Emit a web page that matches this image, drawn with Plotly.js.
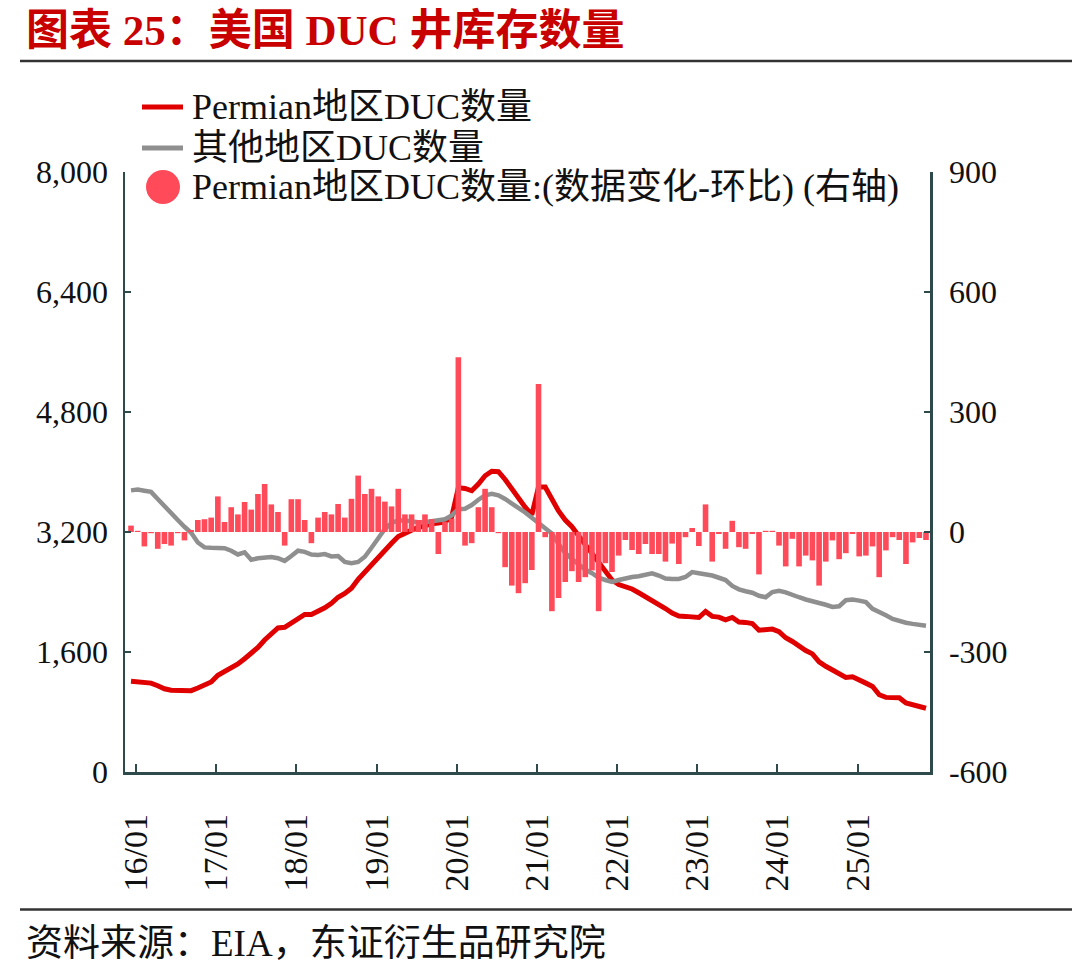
<!DOCTYPE html>
<html>
<head>
<meta charset="utf-8">
<script src="https://cdn.plot.ly/plotly-3.0.1.min.js"></script>
<style>
  html, body { margin: 0; padding: 0; background: #ffffff; }
  #chart { width: 1072px; height: 974px; }
</style>
</head>
<body>
<div id="chart"></div>
<script>
// Monthly DUC well counts, 2016-01 .. 2025-12
const months = [];
for (let y = 2016; y <= 2025; y++) {
  for (let m = 1; m <= 12; m++) months.push(y + '-' + String(m).padStart(2, '0'));
}

// Permian region DUC count (left axis)
const permianDuc = [
  1210, 1200, 1190, 1185, 1150, 1110, 1090, 1085, 1075, 1085, 1120, 1165,
  1200, 1290, 1340, 1390, 1440, 1510, 1580, 1660, 1760, 1830, 1920, 1930,
  1990, 2060, 2100, 2100, 2140, 2190, 2250, 2330, 2380, 2450, 2570, 2670,
  2770, 2860, 2960, 3050, 3140, 3190, 3225, 3260, 3290, 3310, 3320, 3335,
  3400, 3790, 3780, 3750, 3840, 3950, 4010, 4005, 3900, 3770, 3640, 3530,
  3430, 3800, 3800, 3640, 3480, 3360, 3270, 3150, 3030, 2920, 2790, 2680,
  2560, 2500, 2470, 2440, 2390, 2340, 2290, 2230, 2180, 2120, 2080, 2075,
  2070, 2060, 2140, 2075, 2065, 2030, 2060, 2000, 1995, 1980, 1890, 1900,
  1905, 1870, 1790, 1740, 1670, 1620, 1575, 1470, 1410, 1360, 1300, 1260,
  1270, 1220, 1185, 1140, 1030, 995, 990, 990, 920, 895, 875, 850
];

// DUC count in all other regions (left axis)
const otherDuc = [
  3755, 3765, 3750, 3735, 3640, 3540, 3450, 3360, 3270, 3190, 3060, 2995,
  2990, 2990, 2985, 2950, 2900, 2930, 2830, 2850, 2865, 2865, 2850, 2815,
  2880, 2950, 2935, 2900, 2895, 2905, 2875, 2880, 2800, 2785, 2800, 2870,
  2990, 3110, 3240, 3320, 3355, 3355, 3340, 3330, 3330, 3340, 3350, 3370,
  3420, 3505, 3510, 3560, 3630, 3690, 3710, 3690, 3640, 3580, 3530, 3460,
  3390, 3320, 3240, 3180, 3040, 2920, 2840, 2760, 2700, 2650, 2590, 2560,
  2535, 2560, 2585, 2600, 2610, 2630, 2650, 2620, 2580, 2575, 2575, 2600,
  2665, 2650, 2640, 2620, 2590, 2560, 2480, 2435, 2410, 2390, 2350, 2330,
  2400, 2415, 2395, 2370, 2330, 2300, 2280, 2255, 2230, 2200, 2210, 2290,
  2300, 2285, 2265, 2175, 2140, 2090, 2040, 2010, 1990, 1975, 1965, 1950
];

// Month-on-month change of the Permian DUC count (right axis)
const permianMom = [
  16, 3, -36, -3, -42, -30, -34, -3, -21, 5, 30, 32,
  36, 89, 25, 62, 44, 75, 56, 95, 120, 69, 50, -34,
  82, 82, 30, -28, 36, 50, 44, 70, 36, 83, 141, 95,
  108, 89, 76, 64, 108, 44, 44, 30, 44, 32, -55, 25,
  33, 437, -34, -28, 62, 108, 62, -3, -88, -134, -153, -128,
  -95, 370, -13, -198, -165, -125, -98, -125, -113, -96, -198, -78,
  -100, -59, -20, -45, -55, -30, -55, -55, -74, -29, -80, -13,
  10, -35, 69, -74, -5, -42, 28, -38, -42, -5, -106, 3,
  3, -34, -86, -17, -86, -59, -71, -134, -74, -21, -68, -53,
  -5, -61, -59, -36, -113, -46, -13, -20, -80, -26, -15, -20
];

const tickLabels = ['16/01', '17/01', '18/01', '19/01', '20/01', '21/01', '22/01', '23/01', '24/01', '25/01'];
const rightTickVals = [-600, -300, 0, 300, 600, 900];
const rightTickLabels = ['-600', '-300', '0', '300', '600', '900'];
const legendNames = [
  'Permian地区DUC数量',
  '其他地区DUC数量',
  'Permian地区DUC数量:(数据变化-环比) (右轴)'
];
const titleText = '图表 25：美国 DUC 井库存数量';
const sourceText = '资料来源：EIA，东证衍生品研究院';

const RED = '#e00000';
const GREY = '#8f8f8f';
const BAR = '#ff4a5a';
const AXIS = '#2f4a4a';
const FONT = "'Liberation Serif', 'Noto Sans CJK SC', serif";

const xIdx = months.map((_, i) => i);
const tickVals = tickLabels.map((_, k) => k * 12 + 0.75);

// plot-area geometry in pixels, used to place the surrounding text
const W = 1072, H = 974, L = 125, R = 930, T = 172, B = 772;
const px = v => (v - L) / (R - L);
const py = v => (B - v) / (B - T);

const traces = [
  {
    x: xIdx, y: permianDuc, type: 'scatter', mode: 'lines',
    line: { color: RED, width: 5 }, yaxis: 'y', name: legendNames[0],
    showlegend: false, hoverinfo: 'skip'
  },
  {
    x: xIdx, y: otherDuc, type: 'scatter', mode: 'lines',
    line: { color: GREY, width: 4.5 }, yaxis: 'y', name: legendNames[1],
    showlegend: false, hoverinfo: 'skip'
  },
  {
    x: xIdx, y: permianMom, type: 'bar', yaxis: 'y2',
    marker: { color: BAR, line: { width: 0 } }, name: legendNames[2],
    showlegend: false, hoverinfo: 'skip'
  }
];

const annotations = [
  { text: titleText, x: px(24), y: py(31), xref: 'paper', yref: 'paper',
    xanchor: 'left', yanchor: 'middle', showarrow: false,
    font: { family: FONT, size: 43, color: '#c80000', weight: 'bold' } },
  { text: sourceText, x: px(24), y: py(943), xref: 'paper', yref: 'paper',
    xanchor: 'left', yanchor: 'middle', showarrow: false,
    font: { family: FONT, size: 37, color: '#111111' } }
];
const legendRows = [107, 148, 187];
legendNames.forEach((name, k) => {
  annotations.push({
    text: name, x: px(190), y: py(legendRows[k]), xref: 'paper', yref: 'paper',
    xanchor: 'left', yanchor: 'middle', showarrow: false,
    font: { family: FONT, size: 36, color: '#111111' }
  });
});

const shapes = [
  // rules above the chart and above the source line
  { type: 'line', xref: 'paper', yref: 'paper', x0: px(20), x1: px(W), y0: py(61), y1: py(61),
    line: { color: '#333333', width: 2.5 } },
  { type: 'line', xref: 'paper', yref: 'paper', x0: px(20), x1: px(W), y0: py(909.5), y1: py(909.5),
    line: { color: '#333333', width: 2.5 } },
  // legend swatches
  { type: 'line', xref: 'paper', yref: 'paper', x0: px(142), x1: px(183),
    y0: py(legendRows[0]), y1: py(legendRows[0]), line: { color: RED, width: 5 } },
  { type: 'line', xref: 'paper', yref: 'paper', x0: px(142), x1: px(183),
    y0: py(legendRows[1]), y1: py(legendRows[1]), line: { color: GREY, width: 5 } },
  { type: 'circle', xref: 'paper', yref: 'paper', x0: px(146), x1: px(180),
    y0: py(legendRows[2] + 17), y1: py(legendRows[2] - 17),
    fillcolor: BAR, line: { width: 0 } }
];

const layout = {
  width: W, height: H,
  margin: { l: L, r: W - R, t: T, b: H - B, pad: 0 },
  paper_bgcolor: '#ffffff', plot_bgcolor: '#ffffff',
  showlegend: false,
  bargap: 0.16,
  font: { family: FONT, color: '#111111' },
  xaxis: {
    range: [-0.9, 119.6], tickmode: 'array', tickvals: tickVals, ticktext: tickLabels,
    tickangle: -90, ticks: 'inside', ticklen: 8, tickwidth: 2, tickcolor: AXIS,
    showline: true, linecolor: AXIS, linewidth: 2.5, showgrid: false, zeroline: false,
    tickfont: { family: FONT, size: 34, color: '#111111' }, ticklabelstandoff: 26,
    automargin: false, fixedrange: true
  },
  yaxis: {
    range: [0, 8000], tickmode: 'linear', tick0: 0, dtick: 1600, tickformat: ',d',
    ticks: 'inside', ticklen: 6, tickwidth: 2, tickcolor: AXIS,
    showline: true, linecolor: AXIS, linewidth: 2.5, showgrid: false, zeroline: false,
    tickfont: { family: FONT, size: 32, color: '#111111' }, ticklabelstandoff: 8,
    automargin: false, fixedrange: true
  },
  yaxis2: {
    range: [-600, 900], tickmode: 'array', tickvals: rightTickVals, ticktext: rightTickLabels,
    overlaying: 'y', side: 'right',
    ticks: 'inside', ticklen: 6, tickwidth: 2, tickcolor: AXIS,
    showline: true, linecolor: AXIS, linewidth: 2.5, showgrid: false, zeroline: false,
    tickfont: { family: FONT, size: 32, color: '#111111' }, ticklabelstandoff: 10,
    automargin: false, fixedrange: true
  },
  annotations: annotations,
  shapes: shapes
};

Plotly.newPlot('chart', traces, layout, { displayModeBar: false, staticPlot: true });
</script>
</body>
</html>
